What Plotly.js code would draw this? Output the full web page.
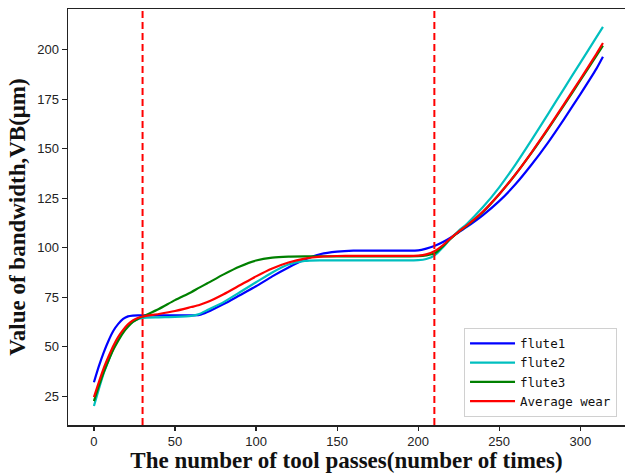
<!DOCTYPE html>
<html>
<head>
<meta charset="utf-8">
<script src="https://cdn.plot.ly/plotly-3.0.1.min.js"></script>
<style>html,body{margin:0;padding:0;background:#fff;}#chart{width:625px;height:473px;}</style>
</head>
<body>
<div id="chart"></div>
<script>
// Number of tool passes (x)
const passes = [0, 3, 6, 9, 12, 15, 18, 21, 24, 27,
  30, 40, 50, 60, 65, 70, 80, 90, 100, 110,
  120, 130, 140, 150, 160, 170, 180, 190, 200, 205,
  210, 215, 220, 225, 230, 240, 250, 260, 270, 280,
  290, 300, 310, 314];

// Flank wear VB (µm) per flute
const flute1 = [32, 40, 47, 53, 58, 61.5, 64, 65.3, 65.7, 65.8,
  65.8, 65.8, 65.8, 65.8, 66, 67.5, 71.5, 76, 80.5, 85.5,
  90, 94, 96.8, 98, 98.5, 98.5, 98.5, 98.5, 98.6, 99.5,
  100.8, 102.7, 105, 107.8, 110.5, 116.5, 123.5, 132, 142, 153,
  165, 177.5, 190.5, 196.5];
const flute2 = [20, 28.5, 36.5, 43, 49, 54, 57.5, 60.5, 62.5, 63.8,
  64.5, 64.8, 65, 65.5, 66.5, 68.5, 72.5, 77.5, 82.5, 87.5,
  91.5, 93.3, 93.6, 93.6, 93.6, 93.6, 93.6, 93.6, 93.7, 94.3,
  96, 100, 104.5, 108.5, 112, 120.5, 130.5, 142, 154.5, 167.4,
  180.4, 193.4, 206.4, 211.6];
const flute3 = [22.5, 30, 37, 43, 48.5, 53, 57, 60, 62.5, 64,
  65.2, 69, 73.5, 77.5, 79.8, 82, 86.5, 90.5, 93.5, 95,
  95.5, 95.6, 95.6, 95.6, 95.6, 95.6, 95.6, 95.6, 95.7, 96.1,
  97, 100.5, 104.5, 108, 111, 118, 127, 137, 148, 159.8,
  172, 184.5, 197, 202.1];
const averageWear = [24.5, 32, 39, 45, 50.5, 55, 58.5, 61.3, 63.3, 64.5,
  65.2, 66.5, 68, 70, 71, 72.5, 76.5, 81, 85.5, 89.5,
  92.5, 94.5, 95.5, 95.8, 95.9, 95.9, 95.9, 95.9, 96, 96.6,
  98.2, 101.1, 104.7, 108.1, 111.2, 118.3, 127, 137, 148.2, 160.1,
  172.5, 185.1, 198, 203.4];

// Stage boundaries (number of passes)
const stageBoundaries = [30, 210];

const seriesNames = ['flute1', 'flute2', 'flute3', 'Average wear'];
const seriesValues = [flute1, flute2, flute3, averageWear];
const seriesColors = ['#0000ff', '#00bfbf', '#008000', '#ff0000'];

const traces = seriesValues.map((vals, i) => ({
  x: passes,
  y: vals,
  type: 'scatter',
  mode: 'lines',
  name: seriesNames[i],
  line: {color: seriesColors[i], width: 2.2, shape: 'spline', smoothing: 0.6}
}));

const shapes = stageBoundaries.map(b => ({
  type: 'line', xref: 'x', yref: 'paper',
  x0: b, x1: b, y0: 0, y1: 1,
  line: {color: '#ff0000', width: 2, dash: '7px,4px'}
}));

const tickFont = {family: 'Liberation Sans, Arial, sans-serif', size: 13, color: '#222'};
const titleFont = {family: 'Liberation Serif, Times New Roman, serif', size: 23, color: '#111', weight: 'bold'};

const layout = {
  width: 625, height: 473,
  margin: {l: 68, r: 0, t: 9, b: 48},
  paper_bgcolor: '#fff', plot_bgcolor: '#fff',
  showlegend: true,
  legend: {
    x: 0.711, y: 0.02, xanchor: 'left', yanchor: 'bottom',
    bgcolor: 'rgba(255,255,255,0.9)', bordercolor: '#d0d0d0', borderwidth: 1,
    font: {family: 'DejaVu Sans Mono, Liberation Mono, monospace', size: 12.5, color: '#111'},
    tracegroupgap: 0, itemwidth: 45
  },
  xaxis: {
    range: [-16, 327.6],
    tickvals: [0, 50, 100, 150, 200, 250, 300],
    ticks: 'outside', ticklen: 4, tickwidth: 1.2, tickcolor: '#222',
    showline: true, linecolor: '#222', linewidth: 1.5, mirror: true,
    showgrid: false, zeroline: false,
    tickfont: tickFont,
    title: {text: 'The number of tool passes(number of times)', font: titleFont, standoff: 4}
  },
  yaxis: {
    range: [10.4, 220.6],
    tickvals: [25, 50, 75, 100, 125, 150, 175, 200],
    ticks: 'outside', ticklen: 5, tickwidth: 1.2, tickcolor: '#222',
    showline: true, linecolor: '#222', linewidth: 1.5, mirror: false,
    showgrid: false, zeroline: false,
    tickfont: tickFont,
    title: {text: 'Value of bandwidth,VB(μm)', font: titleFont, standoff: 5}
  },
  shapes: shapes
};

Plotly.newPlot('chart', traces, layout, {displayModeBar: false, staticPlot: true});
</script>
</body>
</html>
